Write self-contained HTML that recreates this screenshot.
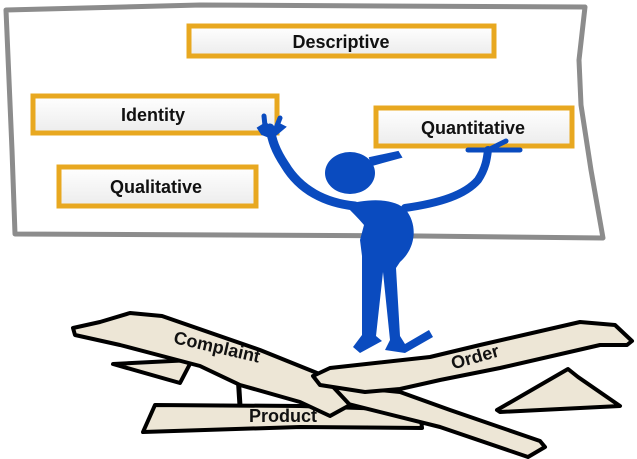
<!DOCTYPE html>
<html><head><meta charset="utf-8"><style>
html,body{margin:0;padding:0;background:#fff;}
svg{display:block;}
text{font-family:"Liberation Sans",Arial,sans-serif;font-weight:bold;fill:#111;}
</style></head><body>
<svg width="637" height="459" viewBox="0 0 637 459" xmlns="http://www.w3.org/2000/svg">
<defs>
<linearGradient id="bx" x1="0" y1="0" x2="0" y2="1"><stop offset="0" stop-color="#ffffff"/><stop offset="1" stop-color="#ececec"/></linearGradient>
</defs>
<!-- board -->
<path d="M6,10 L200,5 L585,7 L579,60 L581,105 L591,170 L603,238 L420,236 L15,234 L12,150 Z" fill="#fff" stroke="#8c8c8c" stroke-width="5" stroke-linejoin="round"/>
<!-- boxes -->
<rect x="189" y="26" width="305" height="30" fill="url(#bx)" stroke="#e8a820" stroke-width="5"/>
<text x="341" y="48" font-size="18" text-anchor="middle">Descriptive</text>
<rect x="33" y="96" width="244" height="37" fill="url(#bx)" stroke="#e8a820" stroke-width="5"/>
<text x="153" y="121" font-size="18" text-anchor="middle">Identity</text>
<rect x="59" y="167" width="197" height="39" fill="url(#bx)" stroke="#e8a820" stroke-width="5"/>
<text x="156" y="193" font-size="18" text-anchor="middle">Qualitative</text>
<rect x="376" y="108" width="196" height="38" fill="url(#bx)" stroke="#e8a820" stroke-width="5"/>
<text x="473" y="134" font-size="18" text-anchor="middle">Quantitative</text>
<!-- figure -->
<g fill="#0a4bbf" stroke="#0a4bbf">
<ellipse cx="350" cy="173" rx="25" ry="21" stroke="none"/>
<path d="M370,158 L398,152 L401,157 L372,165 Z" stroke-width="2"/>
<path d="M355,206 C325,203 300,190 285,165 C275,150 272,140 270,128" fill="none" stroke-width="9" stroke-linecap="round"/>
<path d="M258,128 L266,123 L272,130 L279,124 L285,127 L272,138 L262,134 Z" stroke-width="2"/>
<path d="M265,126 L264,116 M276,128 L280,118" stroke-width="5" stroke-linecap="round"/>
<path d="M405,208 C440,203 465,195 478,180 C486,168 487,158 488,150" fill="none" stroke-width="8" stroke-linecap="round"/>
<path d="M468,150 L520,150" stroke-width="5" stroke-linecap="round"/>
<path d="M488,150 L506,141" stroke-width="5" stroke-linecap="round"/>
<path d="M345,205 C368,198 395,198 406,210 C418,225 416,248 400,262 L396,268 L400,336 L405,344 L429,330 L433,337 L405,353 L385,350 L390,340 L383,272 L376,336 L382,341 L360,353 L353,347 L362,335 L362,256 L360,240 L364,225 C358,218 352,212 345,205 Z" stroke="none"/>
</g>
<!-- planks -->
<g fill="#ede6d6" stroke="#000" stroke-width="4" stroke-linejoin="round">
<path d="M113,364 L192,360 L180,383 Z"/>
<line x1="238" y1="374" x2="240" y2="406" stroke-width="5"/>
<path d="M155,405 L300,406 L420,410 L422,428 L300,427 L143,432 Z"/>
<path d="M330,385 L400,392 L450,410 L540,441 L545,447 L528,457 L440,427 L340,402 Z"/>
<path d="M73,328 L100,322 L130,313 L162,316 L260,350 L322,375 L350,405 L330,416 L300,402 L240,385 L200,366 L120,345 L75,335 Z"/>
<path d="M313,376 L330,368 L430,357 L480,345 L580,322 L615,325 L632,341 L627,345 L600,345 L500,368 L440,380 L400,389 L365,392 L320,385 Z"/>
<path d="M497,410 L568,369 L578,377 L620,406 L500,412 Z"/>
</g>
<text x="217" y="353" font-size="18" text-anchor="middle" transform="rotate(13 217 347)">Complaint</text>
<text x="475" y="363" font-size="18" text-anchor="middle" transform="rotate(-16 475 357)">Order</text>
<text x="283" y="422" font-size="18" text-anchor="middle">Product</text>
</svg>
</body></html>
